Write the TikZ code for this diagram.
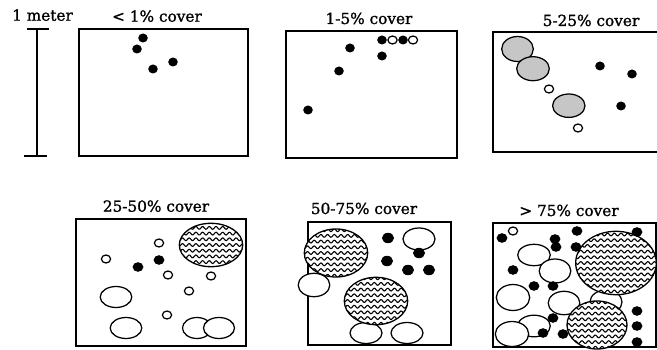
\documentclass[tikz,border=0pt]{standalone}
\usepackage{fontspec}
\setmainfont{DejaVu Serif}
\newfontfamily\lblfont[FakeBold=1.2]{DejaVu Serif}
\tikzset{
  box/.style={line width=1.3pt},
  ring/.style={line width=1.25pt, draw=black, fill=white},
  grayring/.style={line width=1.25pt, draw=black, fill=gray!45},
  lbl/.style={inner sep=0pt, anchor=base, font=\lblfont\fontsize{15.3}{17}\selectfont}
}
\newcommand{\wavyell}[4]{%
  \begin{scope}
    \fill[white] (#1,#2) ellipse [x radius=#3, y radius=#4];
    \clip (#1,#2) ellipse [x radius=#3, y radius=#4];
    \pgfmathsetmacro{\wa}{-#3-2}\pgfmathsetmacro{\wb}{#3+2}
    \foreach \k in {-8,...,8}{
      \draw[line width=1.1pt] plot[domain=\wa:\wb, samples=110] ({#1+\x},{#2+\k*5.7+1.35*sin(\x*53.7)});
    }
  \end{scope}
  \draw[line width=1.3pt] (#1,#2) ellipse [x radius=#3, y radius=#4];}
\newcommand{\sdot}[2]{\fill (#1,#2) ellipse [x radius=4.8, y radius=4.5];}
\newcommand{\bdot}[2]{\fill (#1,#2) ellipse [x radius=5.4, y radius=4.8];}
\newcommand{\ldot}[2]{\fill (#1,#2) ellipse [x radius=6, y radius=5.2];}
\newcommand{\sring}[2]{\draw[ring] (#1,#2) ellipse [x radius=4.6, y radius=4];}
\newcommand{\bring}[4]{\draw[ring] (#1,#2) ellipse [x radius=#3, y radius=#4];}
\begin{document}
\begin{tikzpicture}[x=1pt,y=-1pt]
\useasboundingbox (0,0) rectangle (657,350);
\clip (0,0) rectangle (657,350);
% labels
\node[lbl] (meter) at (42.5,20.7) {1 meter};
\node[lbl] (t1) at (157,21.7) {< 1\% cover};
\node[lbl] (t2) at (369,24) {1-5\% cover};
\node[lbl] (t3) at (591,26) {5-25\% cover};
\node[lbl] (t4) at (156,211.7) {25-50\% cover};
\node[lbl] (t5) at (364,214) {50-75\% cover};
\node[lbl] (t6) at (569,216) {> 75\% cover};
% scale bar
\draw[line width=1.1pt] (37,29) -- (37,156);
\draw[line width=1.1pt] (27,29) -- (49,29);
\draw[line width=1.1pt] (24,156) -- (47,156);
% panel 1
\draw[box] (79,29) rectangle (248,156);
\sdot{143}{38}\sdot{137}{49}\sdot{153}{69}\sdot{173}{62}
% panel 2
\draw[box] (286,31) rectangle (457,158);
\sdot{350}{48}\sdot{339}{71}\sdot{308}{110}\sdot{382}{56}
\sdot{382}{40}\sdot{403}{40}
\sring{392.5}{40}\sring{413}{40}
% panel 3
\draw[box] (662,32) -- (493,32) -- (493,152) -- (662,152);
\draw[grayring] (517.5,49) ellipse [x radius=15.8, y radius=12.5];
\draw[grayring] (533,68.7) ellipse [x radius=16.3, y radius=12];
\draw[grayring] (568.8,105.7) ellipse [x radius=16.2, y radius=11.7];
\sring{549}{89}\sring{578}{128}
\sdot{600}{66}\sdot{632}{74}\sdot{621}{106}
% panel 4
\draw[box] (76,219) rectangle (246,346);
\wavyell{211}{245}{31.7}{21.7}
\sring{159}{243}\sring{106}{259}\sring{168}{275}\sring{211}{276}\sring{189}{291}\sring{167}{315}
\bdot{138}{267}\bdot{159}{260}
\bring{116}{297}{15.8}{10.5}
\bring{126}{328}{15.8}{10.5}
\bring{197}{328}{14.5}{10.5}
\bring{219}{328}{15.5}{10.5}
% panel 5
\draw[box] (308,222) rectangle (451,345);
\bring{314}{285}{15.8}{11.7}
\bring{419}{239}{16}{11}
\bring{366}{333}{16}{10.5}
\bring{407}{333}{16}{10.5}
\wavyell{336}{253}{31.7}{24}
\wavyell{376}{301}{31.7}{23.7}
\ldot{388}{238}\ldot{419}{253}\ldot{387}{261}\ldot{408}{270}\ldot{429}{270}
% panel 6
\draw[box] (493,223) rectangle (656,347);
\bring{606}{302}{16}{12}
\bring{534}{255}{16.3}{10.7}
\bring{555}{271}{15.8}{12}
\bring{513}{297.5}{16.7}{13}
\bring{564}{303}{15.8}{11.7}
\bring{534}{326}{16.3}{10.8}
\bring{512}{334}{16.7}{12.5}
\wavyell{616}{263}{40.3}{31.7}
\wavyell{597}{325}{30}{24}
\sring{513}{231}
\bdot{502}{238}\bdot{555}{239}\bdot{556}{247}\bdot{577}{231}\bdot{576}{247}
\bdot{513}{270}\bdot{534}{286}\bdot{553}{286}\bdot{553}{318}\bdot{543}{333}\bdot{563}{334}
\bdot{637}{232}\bdot{637}{311}\bdot{637}{326}\bdot{637}{342}
\end{tikzpicture}
\end{document}
